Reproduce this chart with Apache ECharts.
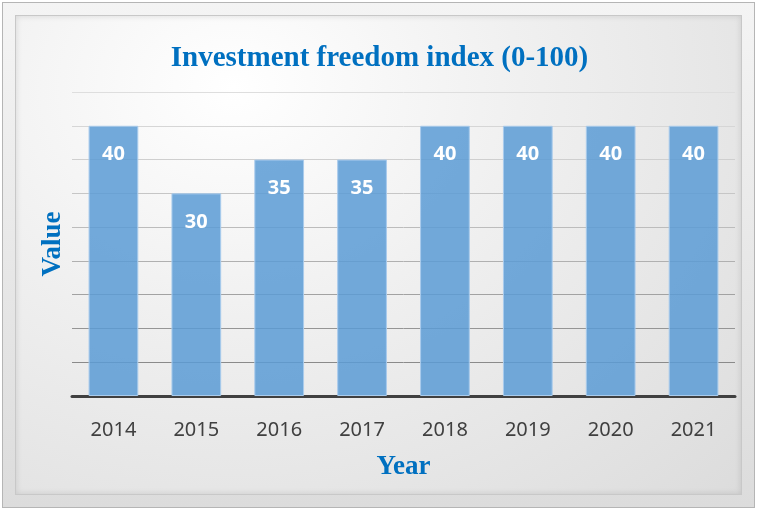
<!DOCTYPE html>
<html>
<head>
<meta charset="utf-8">
<script src="https://cdn.jsdelivr.net/npm/echarts@6/dist/echarts.min.js"></script>
<style>
  html, body { margin: 0; padding: 0; background: #ffffff; }
  .frame {
    position: absolute; left: 2px; top: 2px; width: 753px; height: 506px;
    border: 1px solid #b5b5b5; box-sizing: border-box;
    background: linear-gradient(180deg, #f4f4f4 0%, #dcdcdc 100%);
  }
  .panel {
    position: absolute; left: 12px; top: 12px; right: 12px; bottom: 12px;
    border: 1px solid #c8c8c8;
    background: radial-gradient(ellipse at 30% 15%, #ffffff 0%, #f0f0f0 40%, #dcdcdc 100%);
    box-shadow: inset 0 0 6px rgba(0,0,0,0.12);
  }
  #chart { position: absolute; left: 0; top: 0; width: 759px; height: 512px; }
</style>
</head>
<body>
<div class="frame"><div class="panel"></div></div>
<div id="chart"></div>
<script>
const years = ['2014', '2015', '2016', '2017', '2018', '2019', '2020', '2021']
const values = [40, 30, 35, 35, 40, 40, 40, 40]

const chart = echarts.init(document.getElementById('chart'))

chart.setOption({
  backgroundColor: 'transparent',
  title: {
    text: 'Investment freedom index (0-100)',
    left: 'center',
    top: 39,
    textStyle: { color: '#0070C0', fontFamily: 'Liberation Serif', fontWeight: 'bold', fontSize: 29 },
  },
  grid: { left: 72, right: 24, top: 92, bottom: 116 },
  xAxis: {
    type: 'category',
    data: years,
    name: 'Year',
    nameLocation: 'middle',
    nameGap: 58,
    nameTextStyle: { color: '#0070C0', fontFamily: 'Liberation Serif', fontWeight: 'bold', fontSize: 27 },
    axisLine: { lineStyle: { color: '#404040', width: 3 } },
    axisTick: { show: false },
    axisLabel: { color: '#404040', fontFamily: 'Noto Sans', fontSize: 20, margin: 24 },
  },
  yAxis: {
    type: 'value',
    min: 0,
    max: 45,
    interval: 5,
    name: 'Value',
    nameLocation: 'middle',
    nameGap: 5,
    nameRotate: 90,
    nameTextStyle: { color: '#0070C0', fontFamily: 'Liberation Serif', fontWeight: 'bold', fontSize: 27 },
    axisLine: { show: false },
    axisTick: { show: false },
    axisLabel: { show: false },
    splitLine: {
      lineStyle: {
        color: ['#777', '#8a8a8a', '#959595', '#a2a2a2', '#b0b0b0', '#bcbcbc', '#c6c6c6', '#cfcfcf', '#d6d6d6', '#dedede'],
        width: 1,
      },
    },
  },
  series: [
    {
      type: 'bar',
      data: values,
      barWidth: '60%',
      itemStyle: { color: 'rgba(91,155,213,0.85)', borderColor: '#a9cbec', borderWidth: 1 },
      label: {
        show: true,
        position: 'insideTop',
        distance: 19,
        color: '#ffffff',
        fontFamily: 'Noto Sans',
        fontWeight: 'bold',
        fontSize: 20,
      },
    },
  ],
})
</script>
</body>
</html>
